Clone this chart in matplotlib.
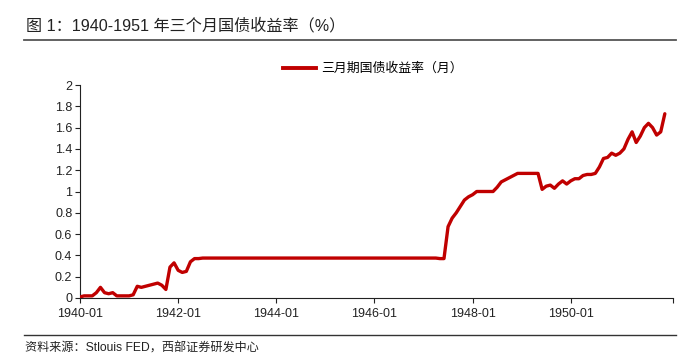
import numpy as np
import matplotlib
matplotlib.use("Agg")
import matplotlib.pyplot as plt
from matplotlib.lines import Line2D

plt.rcParams["font.family"] = ["Liberation Sans", "Noto Sans CJK SC"]

TITLE = "图 1：1940-1951 年三个月国债收益率（%）"
SOURCE = "资料来源：Stlouis FED，西部证券研发中心"
SERIES_NAME = "三月期国债收益率（月）"

# monthly 3-month T-bill yield (%), one list per year
y1940 = [0.01, 0.02, 0.02, 0.02, 0.05, 0.10, 0.05, 0.04, 0.05, 0.02, 0.02, 0.02]
y1941 = [0.02, 0.03, 0.11, 0.10, 0.11, 0.12, 0.13, 0.14, 0.12, 0.08, 0.29, 0.33]
y1942 = [0.26, 0.24, 0.25, 0.34, 0.37, 0.37, 0.375, 0.375, 0.375, 0.375, 0.375, 0.375]
y1943 = [0.375] * 12
y1944 = [0.375] * 12
y1945 = [0.375] * 12
y1946 = [0.375] * 12
y1947 = [0.375, 0.375, 0.375, 0.375, 0.37, 0.37, 0.67, 0.75, 0.80, 0.86, 0.92, 0.95]
y1948 = [0.97, 1.00, 1.00, 1.00, 1.00, 1.00, 1.04, 1.09, 1.11, 1.13, 1.15, 1.17]
y1949 = [1.17, 1.17, 1.17, 1.17, 1.17, 1.02, 1.05, 1.06, 1.03, 1.07, 1.10, 1.07]
y1950 = [1.10, 1.12, 1.12, 1.15, 1.16, 1.16, 1.17, 1.23, 1.31, 1.32, 1.36, 1.34]
y1951 = [1.36, 1.40, 1.49, 1.56, 1.46, 1.52, 1.60, 1.64, 1.60, 1.53, 1.56, 1.73]

tick_labels = ["1940-01", "1942-01", "1944-01", "1946-01", "1948-01", "1950-01"]
y_ticks = [0, 0.2, 0.4, 0.6, 0.8, 1, 1.2, 1.4, 1.6, 1.8, 2]

values = (y1940 + y1941 + y1942 + y1943 + y1944 + y1945 +
          y1946 + y1947 + y1948 + y1949 + y1950 + y1951)
months = np.arange(len(values))

fig = plt.figure(figsize=(6.91, 3.62), dpi=100)
ax = fig.add_axes([80 / 691, 1 - 298 / 362, 593 / 691, 213 / 362])

ax.plot(months, values, color="#C00000", lw=2.4, solid_joinstyle="round",
        solid_capstyle="round", zorder=3)

ax.set_xlim(0, 145)
ax.set_ylim(0, 2)
ax.set_xticks(list(range(0, 121, 24)) + [145])
ax.set_xticklabels(tick_labels + [""])
ax.set_yticks(y_ticks)
ax.set_yticklabels([f"{v:g}" for v in y_ticks])

for side in ["top", "right"]:
    ax.spines[side].set_visible(False)
for side in ["left", "bottom"]:
    ax.spines[side].set_color("#222222")
    ax.spines[side].set_linewidth(0.8)
ax.tick_params(axis="both", direction="out", length=3.5, width=0.8,
               color="#222222", labelsize=9, labelcolor="#222222", pad=2)
ax.tick_params(axis="x", pad=4)

handle = Line2D([], [], color="#C00000", lw=2.8)
ax.legend([handle], [SERIES_NAME], loc="center left",
          bbox_to_anchor=(271 / 691, 1 - 69 / 362),
          bbox_transform=fig.transFigure, frameon=False, fontsize=9.3,
          handlelength=2.6, handletextpad=0.4)

fig.text(26 / 691, 1 - 26 / 362, TITLE, fontsize=11.6, color="#222222",
         va="center", ha="left")
fig.add_artist(Line2D([24 / 691, 676 / 691], [1 - 39.5 / 362, 1 - 39.5 / 362],
                      color="#555555", lw=1.3))
fig.add_artist(Line2D([24 / 691, 676 / 691], [1 - 335 / 362, 1 - 335 / 362],
                      color="#333333", lw=1.0))
fig.text(25 / 691, 1 - 349 / 362, SOURCE, fontsize=8.7, color="#222222",
         va="center", ha="left")

fig.savefig("out.png", dpi=100)
